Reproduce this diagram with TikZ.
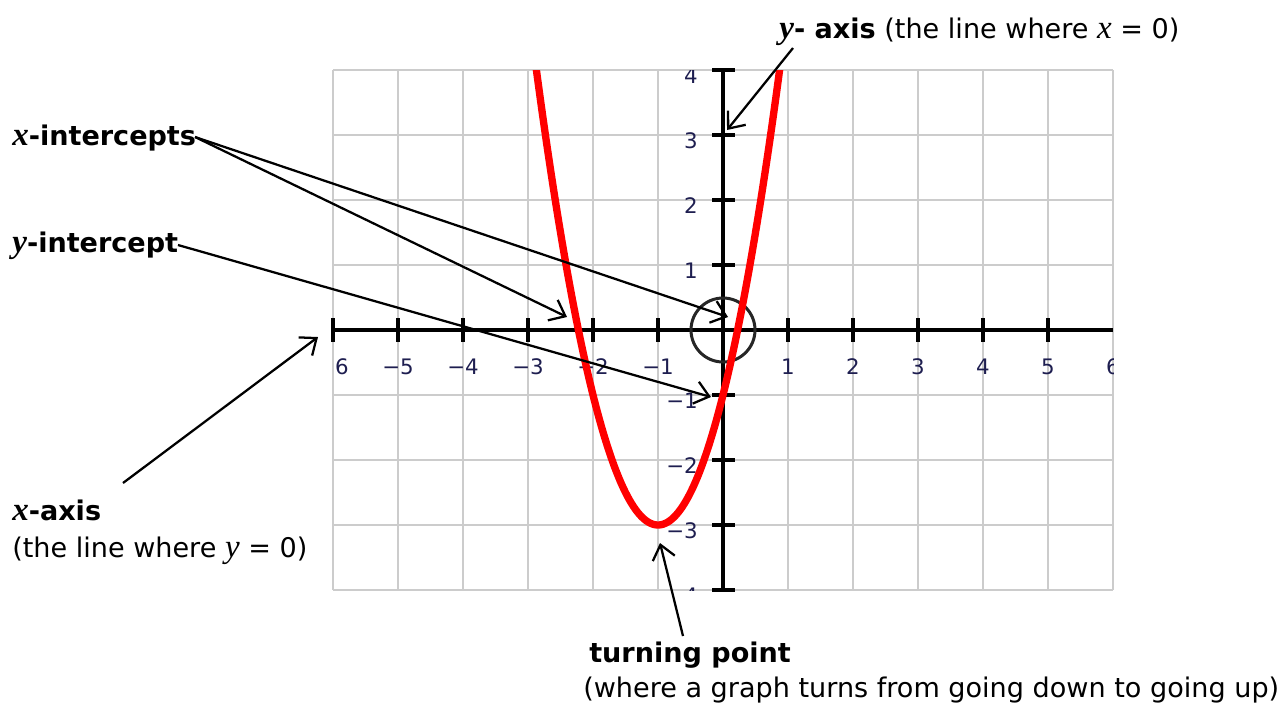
\documentclass[tikz,border=0pt]{standalone}
\usepackage{fontspec}
\setmainfont{DejaVu Sans}
\newfontfamily\varfont{Liberation Serif}[Scale=1.22]
\usetikzlibrary{arrows.meta}
\definecolor{gridgray}{RGB}{204,204,204}
\definecolor{ticklab}{RGB}{30,30,80}
\definecolor{curvered}{RGB}{255,0,0}
\newcommand{\myvx}{{\varfont\itshape x}}
\newcommand{\myvy}{{\varfont\itshape y}}
\newcommand{\myvbx}{{\varfont\bfseries\itshape x}}
\newcommand{\myvby}{{\varfont\bfseries\itshape y}}
\begin{document}
\begin{tikzpicture}[x=0.75pt,y=-0.75pt,
  gridline/.style={draw=gridgray, line width=1.5pt},
  axisline/.style={draw=black, line width=2.4pt},
  tickmark/.style={draw=black, line width=2.4pt},
  ticklabel/.style={text=ticklab, font=\fontsize{16}{19}\selectfont, inner sep=0},
  annot/.style={font=\fontsize{20.3}{24}\selectfont, inner sep=0, anchor=base west},
  pointer/.style={draw=black, line width=1.7pt, -{Straight Barb[length=10.5pt,width=17pt,line width=1.7pt]}},
  curve/.style={draw=curvered, line width=5.5pt},
  ring/.style={circle, draw=black!85, line width=2.25pt, minimum size=48pt, inner sep=0pt},
]
\useasboundingbox (0,0) rectangle (1287,704);
% grid
\foreach \i in {0,...,12} \draw[gridline] ({333+65*\i},70) -- ({333+65*\i},590);
\foreach \j in {0,...,8} \draw[gridline] (333,{70+65*\j}) -- (1113,{70+65*\j});
% axes
\draw[axisline] (333,330) -- (1113,330);
\draw[axisline] (723,70) -- (723,590);
\foreach \i in {-6,...,5} \draw[tickmark] ({723+65*\i},318) -- ({723+65*\i},342);
\foreach \j in {-4,...,-1,1,2,3,4} \draw[tickmark] (712,{330-65*\j}) -- (735,{330-65*\j});
\begin{scope}
\clip (333,70) rectangle (1113,590);
\foreach \i/\t in {-6/−6,-5/−5,-4/−4,-3/−3,-2/−2,-1/−1,1/1,2/2,3/3,4/4,5/5,6/6}
  \node[ticklabel, anchor=base] (xl\i) at ({723+65*\i},374) {\t};
\foreach \j/\t in {4/4,3/3,2/2,1/1,-1/−1,-2/−2,-3/−3,-4/−4}
  \node[ticklabel, anchor=base east] (yl\j) at (698,{343-65*\j}) {\t};
\node[ring] (origin) at (723,330) {};
\draw[curve] plot[domain=-2.95:0.95, samples=120] ({723+65*\x}, {330-65*(2*(\x+1)^2-3)});
\end{scope}
% annotation texts
\node[annot] (yax) at (779,38) {\myvby\textbf{- axis} (the line where \myvx{} = 0)};
\node[annot] (xint) at (12,145) {\myvbx\textbf{-intercepts}};
\node[annot] (yint) at (12,252) {\myvby\textbf{-intercept}};
\node[annot] (xax) at (12,520) {\myvbx\textbf{-axis}};
\node[annot] (xaxsub) at (12,557) {(the line where \myvy{} = 0)};
\node[annot] (tp) at (589,662) {\textbf{turning point}};
\node[annot] (tpsub) at (583,697) {(where a graph turns from going down to going up)};
% pointer ends
\coordinate (yaxTail) at (793,48);
\coordinate (yaxTip) at (727,130);
\coordinate (xintTail) at (195,137);
\coordinate (xintTipA) at (567,317);
\coordinate (xintTipB) at (728,317);
\coordinate (yintTail) at (178,245);
\coordinate (yintTip) at (711,397);
\coordinate (xaxTail) at (123,483);
\coordinate (xaxTip) at (318,337);
\coordinate (tpTail) at (683,636);
\coordinate (tpTip) at (660,543);
\draw[pointer] (yaxTail) -- (yaxTip);
\draw[pointer] (xintTail) -- (xintTipA);
\draw[pointer] (xintTail) -- (xintTipB);
\draw[pointer] (yintTail) -- (yintTip);
\draw[pointer] (xaxTail) -- (xaxTip);
\draw[pointer] (tpTail) -- (tpTip);
\end{tikzpicture}
\end{document}
